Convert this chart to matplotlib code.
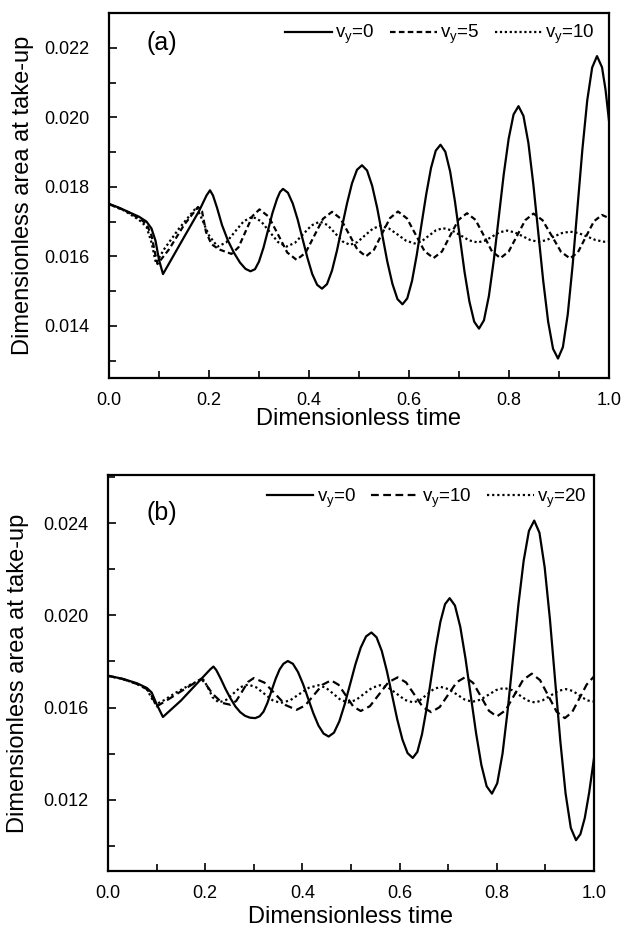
import matplotlib
matplotlib.use("Agg")
import matplotlib.pyplot as plt
from matplotlib.ticker import MultipleLocator, FormatStrFormatter

plt.rcParams['font.family'] = ['Liberation Sans', 'DejaVu Sans']
plt.rcParams['mathtext.default'] = 'regular'

# ---------------- Panel (a) data ----------------
a_vy0_x = [0.000, 0.020, 0.040, 0.060, 0.075, 0.085, 0.093, 0.100, 0.108, 0.150, 0.180, 0.195, 0.202,
           0.208, 0.216, 0.226, 0.238, 0.250, 0.262, 0.273, 0.283, 0.292, 0.300, 0.309, 0.318, 0.327, 0.336, 0.342, 0.348,
           0.3578, 0.3675, 0.3773, 0.387, 0.3968, 0.4065, 0.4163, 0.426,
           0.436, 0.446, 0.456, 0.466, 0.476, 0.486, 0.496, 0.506,
           0.5161, 0.5263, 0.5364, 0.5465, 0.5566, 0.5668, 0.5769, 0.587,
           0.5965, 0.606, 0.6155, 0.625, 0.6345, 0.644, 0.6535, 0.663,
           0.6726, 0.6823, 0.6919, 0.7015, 0.7111, 0.7208, 0.7304, 0.740,
           0.7499, 0.7598, 0.7696, 0.7795, 0.7894, 0.7993, 0.8091, 0.819,
           0.8289, 0.8388, 0.8486, 0.8585, 0.8684, 0.8783, 0.8881, 0.898,
           0.9078, 0.9175, 0.9273, 0.937, 0.9468, 0.9565, 0.9663, 0.976,
           0.986, 0.993, 1.000]
a_vy0_y = [0.01751, 0.01740, 0.01727, 0.01714, 0.01700, 0.01680, 0.01645, 0.01590, 0.01549, 0.01655, 0.01730, 0.01775, 0.01790,
           0.01775, 0.01740, 0.01690, 0.01645, 0.01610, 0.01582, 0.01564, 0.01557, 0.01563, 0.01585, 0.01625, 0.01675, 0.01725, 0.01765, 0.01785, 0.01794,
           0.01783, 0.01752, 0.01706, 0.01651, 0.01596, 0.01549, 0.01518, 0.01507,
           0.01520, 0.01559, 0.01617, 0.01685, 0.01752, 0.01810, 0.01849, 0.01862,
           0.01847, 0.01803, 0.01739, 0.01662, 0.01585, 0.01521, 0.01477, 0.01462,
           0.01479, 0.01529, 0.01604, 0.01692, 0.01779, 0.01854, 0.01904, 0.01921,
           0.01901, 0.01844, 0.01758, 0.01657, 0.01555, 0.01470, 0.01412, 0.01392,
           0.01416, 0.01486, 0.01589, 0.01712, 0.01835, 0.01938, 0.02008, 0.02032,
           0.02004, 0.01926, 0.01808, 0.01669, 0.01530, 0.01412, 0.01334, 0.01306,
           0.01339, 0.01433, 0.01575, 0.01741, 0.01908, 0.02049, 0.02143, 0.02176,
           0.02144, 0.02080, 0.01990]

a_vy5_x = [0.000, 0.030, 0.060, 0.075, 0.085, 0.092, 0.097, 0.120, 0.150, 0.178, 0.186, 0.194, 0.205, 0.220, 0.245,
           0.259, 0.273, 0.287, 0.301,
           0.3195, 0.338, 0.3565, 0.375,
           0.393, 0.4105, 0.428, 0.446,
           0.463, 0.480, 0.497, 0.514,
           0.530, 0.546, 0.562, 0.578,
           0.596, 0.6135, 0.631, 0.649,
           0.666, 0.6825, 0.699, 0.716,
           0.733, 0.7495, 0.766, 0.783,
           0.7995, 0.816, 0.8325, 0.849,
           0.867, 0.8855, 0.904, 0.922,
           0.938, 0.954, 0.970, 0.986, 1.000]
a_vy5_y = [0.01750, 0.01733, 0.01710, 0.01693, 0.01660, 0.01610, 0.01578, 0.01620, 0.01690, 0.01742, 0.01730, 0.01670, 0.01635, 0.01620, 0.01607,
           0.01626, 0.01671, 0.01716, 0.01735,
           0.01714, 0.01663, 0.01611, 0.01590,
           0.01610, 0.01659, 0.01708, 0.01728,
           0.01709, 0.01664, 0.01619, 0.01600,
           0.01619, 0.01665, 0.01710, 0.01729,
           0.01709, 0.01662, 0.01615, 0.01595,
           0.01614, 0.01660, 0.01705, 0.01724,
           0.01705, 0.01660, 0.01614, 0.01595,
           0.01614, 0.01659, 0.01704, 0.01723,
           0.01704, 0.01659, 0.01613, 0.01594,
           0.01612, 0.01657, 0.01701, 0.01719, 0.01710]

a_vy10_x = [0.000, 0.030, 0.060, 0.075, 0.085, 0.094, 0.110, 0.140, 0.175, 0.185, 0.200, 0.217,
            0.2345, 0.252, 0.2695, 0.287,
            0.304, 0.321, 0.338, 0.355,
            0.372, 0.3885, 0.405, 0.422,
            0.437, 0.452, 0.467, 0.482,
            0.497, 0.5125, 0.528, 0.543,
            0.560, 0.577, 0.594, 0.611,
            0.625, 0.6395, 0.654, 0.668,
            0.685, 0.7025, 0.720, 0.737,
            0.752, 0.7665, 0.781, 0.796,
            0.8115, 0.827, 0.8425, 0.858,
            0.874, 0.890, 0.906, 0.922,
            0.939, 0.956, 0.973, 0.990, 1.000]
a_vy10_y = [0.01750, 0.01732, 0.01705, 0.01685, 0.01640, 0.01580, 0.01620, 0.01680, 0.01741, 0.01710, 0.01660, 0.01628,
            0.01640, 0.01671, 0.01701, 0.01714,
            0.01701, 0.01671, 0.01641, 0.01628,
            0.01639, 0.01664, 0.01689, 0.01700,
            0.01690, 0.01667, 0.01643, 0.01633,
            0.01641, 0.01661, 0.01680, 0.01688,
            0.01680, 0.01663, 0.01645, 0.01637,
            0.01643, 0.01659, 0.01675, 0.01681,
            0.01675, 0.01661, 0.01646, 0.01640,
            0.01645, 0.01657, 0.01669, 0.01674,
            0.01669, 0.01658, 0.01647, 0.01642,
            0.01646, 0.01657, 0.01667, 0.01671,
            0.01667, 0.01657, 0.01647, 0.01642, 0.01643]

# ---------------- Panel (b) data ----------------
b_vy0_x = [0.000, 0.030, 0.060, 0.080, 0.090, 0.100, 0.113, 0.150, 0.190, 0.210, 0.217,
           0.223, 0.232, 0.242, 0.252, 0.262, 0.272, 0.282, 0.292, 0.303, 0.312, 0.320, 0.328, 0.336, 0.345, 0.353, 0.361, 0.370,
           0.3805, 0.391, 0.4015, 0.412, 0.4225, 0.433, 0.4435, 0.454,
           0.465, 0.476, 0.487, 0.498, 0.509, 0.520, 0.531, 0.542,
           0.5526, 0.5633, 0.5739, 0.5845, 0.5951, 0.6058, 0.6164, 0.627,
           0.6365, 0.646, 0.6555, 0.665, 0.6745, 0.684, 0.6935, 0.703,
           0.7139, 0.7248, 0.7356, 0.7465, 0.7574, 0.7683, 0.7791, 0.790,
           0.8009, 0.8118, 0.8226, 0.8335, 0.8444, 0.8553, 0.8661, 0.877,
           0.8878, 0.8985, 0.9093, 0.920, 0.9308, 0.9415, 0.9523, 0.963,
           0.972, 0.981, 0.990, 1.000]
b_vy0_y = [0.01738, 0.01725, 0.01705, 0.01685, 0.01665, 0.01615, 0.01559, 0.01630, 0.01720, 0.01765, 0.01778,
           0.01762, 0.01725, 0.01680, 0.01640, 0.01605, 0.01580, 0.01564, 0.01556, 0.01554, 0.01562, 0.01582, 0.01620, 0.01670, 0.01725, 0.01765, 0.01790, 0.01802,
           0.01790, 0.01754, 0.01701, 0.01638, 0.01575, 0.01522, 0.01487, 0.01474,
           0.01491, 0.01540, 0.01614, 0.01700, 0.01787, 0.01860, 0.01909, 0.01926,
           0.01905, 0.01846, 0.01758, 0.01654, 0.01549, 0.01461, 0.01402, 0.01381,
           0.01407, 0.01483, 0.01595, 0.01728, 0.01861, 0.01973, 0.02049, 0.02075,
           0.02043, 0.01951, 0.01813, 0.01651, 0.01488, 0.01350, 0.01258, 0.01226,
           0.01271, 0.01400, 0.01592, 0.01819, 0.02046, 0.02238, 0.02367, 0.02412,
           0.02359, 0.02209, 0.01984, 0.01718, 0.01452, 0.01227, 0.01077, 0.01024,
           0.01050, 0.01120, 0.01230, 0.01380]

b_vy10_x = [0.000, 0.030, 0.060, 0.080, 0.090, 0.100, 0.120, 0.150, 0.192, 0.205, 0.215, 0.235, 0.252,
            0.264, 0.276, 0.288, 0.300,
            0.322, 0.344, 0.366, 0.388,
            0.4058, 0.4235, 0.4413, 0.459,
            0.4743, 0.4895, 0.5048, 0.520,
            0.539, 0.558, 0.577, 0.596,
            0.6133, 0.6305, 0.6478, 0.665,
            0.6825, 0.700, 0.7175, 0.735,
            0.7513, 0.7675, 0.7838, 0.800,
            0.818, 0.836, 0.854, 0.872,
            0.889, 0.906, 0.923, 0.940,
            0.955, 0.970, 0.985, 1.000]
b_vy10_y = [0.01738, 0.01724, 0.01702, 0.01680, 0.01650, 0.01605, 0.01630, 0.01670, 0.01725, 0.01690, 0.01660, 0.01620, 0.01612,
            0.01629, 0.01670, 0.01711, 0.01728,
            0.01708, 0.01659, 0.01610, 0.01590,
            0.01609, 0.01654, 0.01699, 0.01718,
            0.01699, 0.01652, 0.01604, 0.01585,
            0.01606, 0.01658, 0.01710, 0.01731,
            0.01709, 0.01656, 0.01602, 0.01580,
            0.01602, 0.01656, 0.01710, 0.01732,
            0.01707, 0.01647, 0.01586, 0.01561,
            0.01588, 0.01654, 0.01720, 0.01747,
            0.01719, 0.01651, 0.01582, 0.01554,
            0.01580, 0.01640, 0.01700, 0.01735]

b_vy20_x = [0.000, 0.030, 0.060, 0.080, 0.090, 0.098, 0.110, 0.140, 0.170, 0.195, 0.205, 0.215, 0.228,
            0.243, 0.258, 0.273, 0.288,
            0.3048, 0.3215, 0.3383, 0.355,
            0.3745, 0.394, 0.4135, 0.433,
            0.4483, 0.4635, 0.4788, 0.494,
            0.5105, 0.527, 0.5435, 0.560,
            0.577, 0.594, 0.611, 0.628,
            0.642, 0.656, 0.670, 0.684,
            0.7005, 0.717, 0.7335, 0.750,
            0.7663, 0.7825, 0.7988, 0.815,
            0.8308, 0.8465, 0.8623, 0.878,
            0.894, 0.910, 0.926, 0.942,
            0.9565, 0.971, 0.9855, 1.000]
b_vy20_y = [0.01738, 0.01724, 0.01702, 0.01680, 0.01640, 0.01615, 0.01625, 0.01665, 0.01700, 0.01725, 0.01690, 0.01645, 0.01622,
            0.01633, 0.01661, 0.01689, 0.01700,
            0.01688, 0.01660, 0.01632, 0.01620,
            0.01631, 0.01659, 0.01686, 0.01697,
            0.01686, 0.01660, 0.01633, 0.01622,
            0.01633, 0.01660, 0.01686, 0.01697,
            0.01686, 0.01660, 0.01633, 0.01622,
            0.01632, 0.01656, 0.01680, 0.01690,
            0.01680, 0.01658, 0.01635, 0.01625,
            0.01634, 0.01655, 0.01676, 0.01685,
            0.01676, 0.01654, 0.01631, 0.01622,
            0.01631, 0.01651, 0.01672, 0.01680,
            0.01672, 0.01651, 0.01631, 0.01626]

labels_a = ['v$_y$=0', 'v$_y$=5', 'v$_y$=10']
labels_b = ['v$_y$=0', 'v$_y$=10', 'v$_y$=20']
xlabel = 'Dimensionless time'
ylabel = 'Dimensionless area at take-up'

fig = plt.figure(figsize=(6.21, 9.30), dpi=100)
ax1 = fig.add_axes([109/621, 1-378/930, 500/621, 365/930])
ax2 = fig.add_axes([108/621, 1-871/930, 486/621, 396/930])

lw = 1.6
ax1.plot(a_vy0_x, a_vy0_y, color='black', lw=lw, ls='-', label=labels_a[0])
ax1.plot(a_vy5_x, a_vy5_y, color='black', lw=lw, ls=(0, (2.5, 1.5)), label=labels_a[1])
ax1.plot(a_vy10_x, a_vy10_y, color='black', lw=lw, ls=(0, (1, 1.2)), label=labels_a[2])

ax2.plot(b_vy0_x, b_vy0_y, color='black', lw=lw, ls='-', label=labels_b[0])
ax2.plot(b_vy10_x, b_vy10_y, color='black', lw=lw, ls=(0, (3.5, 2)), label=labels_b[1])
ax2.plot(b_vy20_x, b_vy20_y, color='black', lw=lw, ls=(0, (1, 1.3)), label=labels_b[2])

ax1.set_xlim(0, 1.0)
ax1.set_ylim(0.0125, 0.0230)
ax2.set_xlim(0, 1.0)
ax2.set_ylim(0.0089, 0.0261)

for ax, ymaj, ymin in [(ax1, 0.002, 0.001), (ax2, 0.004, 0.002)]:
    ax.xaxis.set_major_locator(MultipleLocator(0.2))
    ax.xaxis.set_minor_locator(MultipleLocator(0.1))
    ax.yaxis.set_major_locator(MultipleLocator(ymaj))
    ax.yaxis.set_minor_locator(MultipleLocator(ymin))
    ax.xaxis.set_major_formatter(FormatStrFormatter('%.1f'))
    ax.yaxis.set_major_formatter(FormatStrFormatter('%.3f'))
    ax.tick_params(axis='both', which='both', direction='in', width=1.2, labelsize=13)
    ax.tick_params(axis='both', which='major', length=6)
    ax.tick_params(axis='both', which='minor', length=5)
    ax.tick_params(axis='y', which='major', pad=14)
    ax.tick_params(axis='x', which='major', pad=10)
    for s in ax.spines.values():
        s.set_linewidth(1.6)
    ax.set_xlabel(xlabel, fontsize=17)
    ax.set_ylabel(ylabel, fontsize=17)

ax1.yaxis.set_label_coords(-0.150, 0.5)
ax1.xaxis.set_label_coords(0.5, -0.082)
ax2.yaxis.set_label_coords(-0.163, 0.5)
ax2.xaxis.set_label_coords(0.5, -0.088)

ax1.text(0.076, 0.918, '(a)', transform=ax1.transAxes, fontsize=18, va='center', ha='left')
ax2.text(0.080, 0.904, '(b)', transform=ax2.transAxes, fontsize=18, va='center', ha='left')

leg_kw = dict(ncol=3, frameon=False, fontsize=13.5, handlelength=2.5, handletextpad=0.2,
              columnspacing=0.8, borderpad=0, borderaxespad=0, loc='center right')
ax1.legend(bbox_to_anchor=(0.972, 0.94), **leg_kw)
ax2.legend(bbox_to_anchor=(0.986, 0.942), **leg_kw)

fig.savefig('out.png', dpi=100)
